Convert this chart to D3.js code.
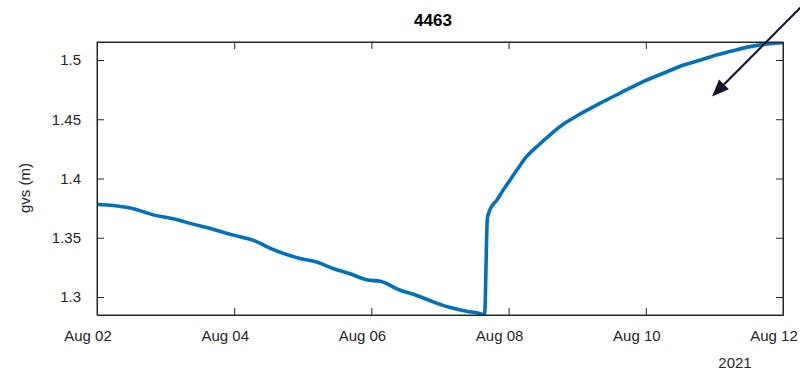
<!DOCTYPE html>
<html>
<head>
<meta charset="utf-8">
<script src="https://cdn.jsdelivr.net/npm/d3@7"></script>
<style>
  html, body { margin: 0; padding: 0; background: #fff; }
  svg { display: block; font-family: "Liberation Sans", Arial, sans-serif; }
</style>
</head>
<body>
<svg id="chart" width="800" height="371"></svg>
<script>
// Gauge 4463 water level, fractional day of August 2021
const dayOfAug = [
  2.00, 2.02, 2.24, 2.53, 2.82, 3.11, 3.40, 3.74, 3.99, 4.28, 4.57, 4.96,
  5.20, 5.44, 5.69, 5.93, 6.13, 6.42, 6.66, 6.90, 7.15, 7.39, 7.58, 7.63,
  7.65, 7.69, 7.73, 7.83, 7.92, 8.02, 8.12, 8.26, 8.41, 8.60, 8.85, 9.00,
  9.33, 9.64, 9.96, 10.31, 10.55, 10.80, 11.03, 11.28, 11.52, 11.76, 12.00
];
const gvs = [
  1.3785, 1.3781, 1.3772, 1.3745, 1.3693, 1.3660, 1.3615, 1.3564, 1.3522, 1.3478, 1.3400, 1.3325,
  1.3295, 1.3241, 1.3196, 1.3145, 1.3132, 1.3057, 1.3013, 1.2959, 1.2911, 1.2880, 1.2861, 1.2853,
  1.2853, 1.3663, 1.3739, 1.3818, 1.3902, 1.3986, 1.4071, 1.4184, 1.4268, 1.4367, 1.4478, 1.4530,
  1.4634, 1.4725, 1.4817, 1.4901, 1.4958, 1.5000, 1.5042, 1.5080, 1.5113, 1.5135, 1.5146
];
const yTicks = [1.3, 1.35, 1.4, 1.45, 1.5];
const xTickDays = [2, 4, 6, 8, 10, 12];
const titleText = "4463";
const yLabel = "gvs (m)";
const yearLabel = "2021";

// annotation arrow in figure-normalised units (from -> to)
const arrowX = [1.01, 0.89];
const arrowY = [1.0, 0.74];

const W = 800, H = 371;
const margin = { left: 97, right: 17, top: 42, bottom: 56 };
const iw = W - margin.left - margin.right;
const ih = H - margin.top - margin.bottom;
const axisColor = "#262626";
const lineColor = "#0072BD";

const toDate = d => new Date(Date.UTC(2021, 7, 1) + (d - 1) * 864e5);
const data = dayOfAug.map((d, i) => ({ t: toDate(d), v: gvs[i] }));

const svg = d3.select("#chart");
const g = svg.append("g").attr("transform", `translate(${margin.left},${margin.top})`);

const x = d3.scaleUtc().domain([toDate(2), toDate(12)]).range([0, iw]);
const y = d3.scaleLinear().domain([1.2848, 1.5152]).range([ih, 0]);

g.append("clipPath").attr("id", "plotClip")
  .append("rect").attr("x", 0).attr("y", 0).attr("width", iw).attr("height", ih);

// series
g.append("path")
  .datum(data)
  .attr("clip-path", "url(#plotClip)")
  .attr("fill", "none")
  .attr("stroke", lineColor)
  .attr("stroke-width", 3.6)
  .attr("stroke-linejoin", "round")
  .attr("stroke-linecap", "round")
  .attr("d", d3.line().curve(d3.curveMonotoneX).x(d => x(d.t)).y(d => y(d.v)));

const fmt = d3.utcFormat("%b %d");
const xTickVals = xTickDays.map(toDate);
const tickLen = 7;

// bottom axis with inward ticks
const xAxis = g.append("g").attr("transform", `translate(0,${ih})`)
  .call(d3.axisBottom(x).tickValues(xTickVals).tickFormat(fmt).tickSizeInner(-tickLen).tickSizeOuter(0).tickPadding(15));
// top axis ticks only
const xTop = g.append("g")
  .call(d3.axisTop(x).tickValues(xTickVals).tickFormat("").tickSizeInner(-tickLen).tickSizeOuter(0));
// left axis
const yAxis = g.append("g")
  .call(d3.axisLeft(y).tickValues(yTicks).tickFormat(d3.format("")).tickSizeInner(-tickLen).tickSizeOuter(0).tickPadding(16));
// right axis ticks only
const yRight = g.append("g").attr("transform", `translate(${iw},0)`)
  .call(d3.axisRight(y).tickValues(yTicks).tickFormat("").tickSizeInner(-tickLen).tickSizeOuter(0));

[xAxis, xTop, yAxis, yRight].forEach(a => {
  a.select(".domain").attr("stroke", axisColor).attr("stroke-width", 1);
  a.selectAll(".tick line").attr("stroke", axisColor).attr("stroke-width", 1);
  a.selectAll(".tick text").attr("fill", axisColor).attr("font-size", 15)
    .attr("font-family", "'Liberation Sans', Arial, sans-serif");
});
xAxis.selectAll(".tick text").attr("dx", -9.5);

// frame
g.append("rect").attr("x", 0).attr("y", 0).attr("width", iw).attr("height", ih)
  .attr("fill", "none").attr("stroke", axisColor).attr("stroke-width", 1);

// title
svg.append("text")
  .attr("x", 433).attr("y", 26)
  .attr("text-anchor", "middle")
  .attr("font-size", 17).attr("font-weight", "bold")
  .attr("fill", "#000")
  .text(titleText);

// y label
svg.append("text")
  .attr("transform", `translate(30,188) rotate(-90)`)
  .attr("text-anchor", "middle")
  .attr("font-size", 15)
  .attr("fill", axisColor)
  .text(yLabel);

// year label under the time axis
svg.append("text")
  .attr("x", 735).attr("y", 368)
  .attr("text-anchor", "middle")
  .attr("font-size", 15)
  .attr("fill", axisColor)
  .text(yearLabel);

// arrow annotation
const ax1 = arrowX[0] * W, ay1 = (1 - arrowY[0]) * H;
const ax2 = arrowX[1] * W, ay2 = (1 - arrowY[1]) * H;
const ang = Math.atan2(ay2 - ay1, ax2 - ax1);
const headLen = 17, headHalf = 7;
const bx = ax2 - headLen * Math.cos(ang), by = ay2 - headLen * Math.sin(ang);
const arrowColor = "#15152e";
svg.append("line")
  .attr("x1", ax1).attr("y1", ay1).attr("x2", bx).attr("y2", by)
  .attr("stroke", arrowColor).attr("stroke-width", 2.2);
svg.append("path")
  .attr("fill", arrowColor)
  .attr("d", d3.line()([
    [ax2, ay2],
    [bx + headHalf * Math.sin(ang), by - headHalf * Math.cos(ang)],
    [bx - headHalf * Math.sin(ang), by + headHalf * Math.cos(ang)]
  ]) + "Z");
</script>
</body>
</html>
